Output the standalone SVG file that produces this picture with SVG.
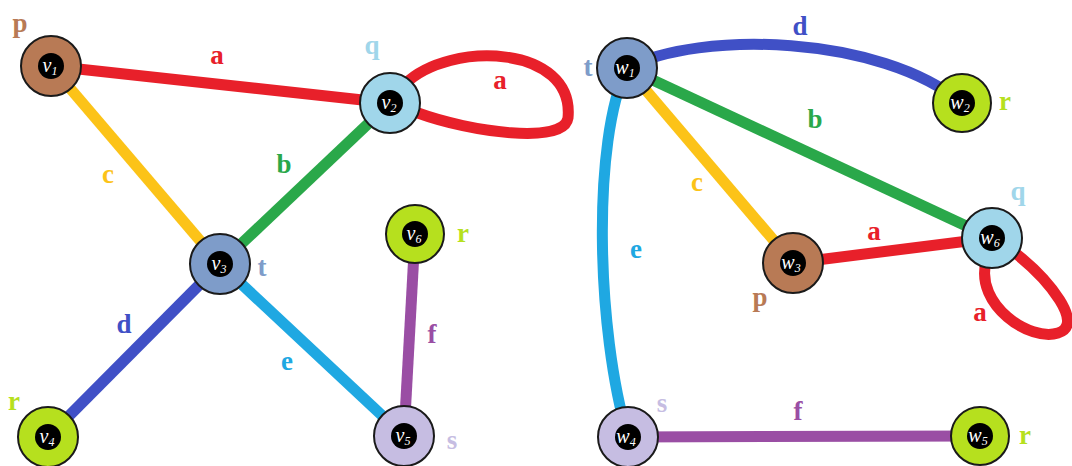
<svg xmlns="http://www.w3.org/2000/svg" width="1072" height="466" viewBox="0 0 1072 466">
<style>
.e{fill:none;stroke-width:11;stroke-linecap:butt}
.ea{stroke:#e8202a}.eb{stroke:#2aa84a}.ec{stroke:#fcc318}.ed{stroke:#4050c6}.ee{stroke:#1fa8e2}.ef{stroke:#9a4ea4}
.n{stroke:#1a1a1a;stroke-width:2}
.np{fill:#b87a55}.nq{fill:#a0d6ea}.nt{fill:#7e9cc9}.nr{fill:#b6e01e}.ns{fill:#c6bde2}
.in{fill:#000}
.nl{font-family:"Liberation Serif",serif;font-style:italic;font-size:20px;fill:#fff;text-anchor:middle}
.sub{font-size:12px}
.lb{font-family:"Liberation Serif",serif;font-weight:bold;font-size:27px;text-anchor:middle}
.la{fill:#e8202a}.lbg{fill:#2aa84a}.lc{fill:#fcc318}.ld{fill:#4050c6}.le{fill:#1fa8e2}.lf{fill:#9a4ea4}
.lp{fill:#b87a55}.lq{fill:#a0d6ea}.lt{fill:#7e9cc9}.lr{fill:#b6e01e}.ls{fill:#c6bde2}
</style>
<g id="connectors">
<line class="e ea" x1="51" y1="66" x2="390" y2="103"/>
<path class="e ea" d="M405,84 C450,40 575,45 568,118 C564,145 470,132 418,113"/>
<line class="e ec" x1="51" y1="66" x2="220" y2="264"/>
<line class="e eb" x1="390" y1="103" x2="220" y2="264"/>
<line class="e ed" x1="220" y1="264" x2="48" y2="437"/>
<line class="e ee" x1="220" y1="264" x2="404" y2="436"/>
<line class="e ef" x1="415" y1="234" x2="404" y2="436"/>
<path class="e ed" d="M627,68 C700,30 880,35 962,103"/>
<line class="e eb" x1="627" y1="68" x2="992" y2="238"/>
<line class="e ec" x1="627" y1="68" x2="793" y2="263"/>
<path class="e ee" d="M627,68 C592,140 596,330 628,437"/>
<line class="e ea" x1="793" y1="263" x2="992" y2="238"/>
<path class="e ea" d="M1014,252 C1050,280 1085,325 1058,333 C1030,342 975,305 986,262"/>
<line class="e ef" x1="628" y1="437" x2="980" y2="436"/>
</g>
<g id="v1"><circle class="n np" cx="51" cy="66" r="30"/><circle class="in" cx="51" cy="66" r="13"/><text class="nl" x="50" y="72">v<tspan class="sub" dy="3">1</tspan></text><text class="lb lp" x="20" y="32">p</text></g>
<g id="v2"><circle class="n nq" cx="390" cy="103" r="30"/><circle class="in" cx="390" cy="103" r="13"/><text class="nl" x="389" y="109">v<tspan class="sub" dy="3">2</tspan></text><text class="lb lq" x="372" y="54">q</text></g>
<g id="v3"><circle class="n nt" cx="220" cy="264" r="30"/><circle class="in" cx="220" cy="264" r="13"/><text class="nl" x="219" y="270">v<tspan class="sub" dy="3">3</tspan></text><text class="lb lt" x="262" y="276">t</text></g>
<g id="v4"><circle class="n nr" cx="48" cy="437" r="30"/><circle class="in" cx="48" cy="437" r="13"/><text class="nl" x="47" y="443">v<tspan class="sub" dy="3">4</tspan></text><text class="lb lr" x="14" y="410">r</text></g>
<g id="v5"><circle class="n ns" cx="404" cy="436" r="30"/><circle class="in" cx="404" cy="436" r="13"/><text class="nl" x="403" y="442">v<tspan class="sub" dy="3">5</tspan></text><text class="lb ls" x="452" y="449">s</text></g>
<g id="v6"><circle class="n nr" cx="415" cy="234" r="29"/><circle class="in" cx="415" cy="234" r="13"/><text class="nl" x="414" y="240">v<tspan class="sub" dy="3">6</tspan></text><text class="lb lr" x="463" y="242">r</text></g>
<g id="w1"><circle class="n nt" cx="627" cy="68" r="30"/><circle class="in" cx="627" cy="68" r="13"/><text class="nl" x="625" y="74">w<tspan class="sub" dy="3">1</tspan></text><text class="lb lt" x="588" y="76">t</text></g>
<g id="w2"><circle class="n nr" cx="962" cy="103" r="29"/><circle class="in" cx="962" cy="103" r="13"/><text class="nl" x="960" y="109">w<tspan class="sub" dy="3">2</tspan></text><text class="lb lr" x="1005" y="110">r</text></g>
<g id="w3"><circle class="n np" cx="793" cy="263" r="30"/><circle class="in" cx="793" cy="263" r="13"/><text class="nl" x="791" y="269">w<tspan class="sub" dy="3">3</tspan></text><text class="lb lp" x="760" y="306">p</text></g>
<g id="w6"><circle class="n nq" cx="992" cy="238" r="30"/><circle class="in" cx="992" cy="238" r="13"/><text class="nl" x="990" y="244">w<tspan class="sub" dy="3">6</tspan></text><text class="lb lq" x="1018" y="200">q</text></g>
<g id="w4"><circle class="n ns" cx="628" cy="437" r="30"/><circle class="in" cx="628" cy="437" r="13"/><text class="nl" x="626" y="443">w<tspan class="sub" dy="3">4</tspan></text><text class="lb ls" x="662" y="412">s</text></g>
<g id="w5"><circle class="n nr" cx="980" cy="436" r="29"/><circle class="in" cx="980" cy="436" r="13"/><text class="nl" x="978" y="442">w<tspan class="sub" dy="3">5</tspan></text><text class="lb lr" x="1025" y="444">r</text></g>
<g id="edge-labels">
<text class="lb la" x="217" y="64">a</text>
<text class="lb la" x="500" y="89">a</text>
<text class="lb lc" x="108" y="183">c</text>
<text class="lb lbg" x="284" y="173">b</text>
<text class="lb ld" x="124" y="333">d</text>
<text class="lb le" x="287" y="370">e</text>
<text class="lb lf" x="432" y="343">f</text>
<text class="lb ld" x="800" y="35">d</text>
<text class="lb lbg" x="815" y="128">b</text>
<text class="lb lc" x="697" y="191">c</text>
<text class="lb le" x="636" y="258">e</text>
<text class="lb la" x="874" y="240">a</text>
<text class="lb la" x="980" y="321">a</text>
<text class="lb lf" x="798" y="420">f</text>
</g>
</svg>
